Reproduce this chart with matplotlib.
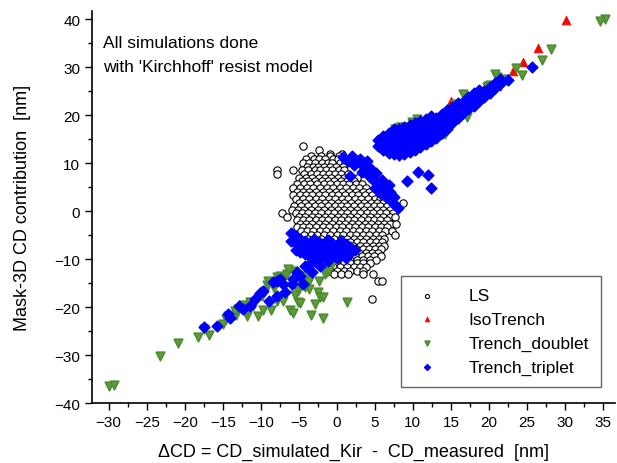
import numpy as np
import matplotlib
matplotlib.use("Agg")
import matplotlib.pyplot as plt
from matplotlib.ticker import MultipleLocator

plt.rcParams['font.family'] = ['Liberation Sans', 'DejaVu Sans']

# ---------------- data ----------------
# LS : rows of the dense cloud, (y, [x values])
ls_rows = [
    (13.5, [-4.5]),
    (12.7, [-2.3]),
    (12.0, [-0.9, 0.7]),
    (11.6, [-3.4, -2.1, -0.9, 0.3]),
    (10.8, [-4.1, -3.0, -2.4, -1.6, -0.5, 0.2]),
    (10.0, [-4.4, -3.6, -2.9, -2.0, -1.2, -0.6, 0.4, 1.1]),
    (9.2, [-3.9, -3.1, -2.5, -1.7, -0.9, -0.1, 0.8]),
    (8.5, [-7.8, -5.8, -4.6, -3.8, -2.9, -2.2, -1.4, -0.6, 0.3, 1.0]),
    (7.8, [-7.8, -4.3, -3.4, -2.6, -1.8, -1.0, -0.2, 0.6, 1.5]),
    (7.0, [-5.0, -4.1, -3.2, -2.3, -1.5, -0.8, 0.1, 0.9, 1.7, 2.7]),
    (6.3, [-4.6, -3.8, -2.9, -2.0, -1.2, -0.4, 0.5, 1.3, 2.2]),
    (5.6, [-5.2, -4.3, -3.5, -2.6, -1.7, -0.9, 0.0, 0.8, 1.6, 2.5, 3.3]),
    (4.8, [-5.8, -4.8, -3.9, -3.1, -2.2, -1.3, -0.5, 0.4, 1.2, 2.1, 2.9, 3.8]),
    (4.1, [-5.3, -4.5, -3.6, -2.7, -1.8, -1.0, -0.1, 0.7, 1.6, 2.5, 3.4, 4.2]),
    (3.3, [-5.8, -4.9, -4.0, -3.2, -2.3, -1.5, -0.6, 0.2, 1.1, 2.0, 2.8, 3.7, 4.6, 6.5]),
    (2.6, [-5.4, -4.5, -3.7, -2.8, -1.9, -1.0, -0.2, 0.7, 1.5, 2.4, 3.2, 4.1, 5.0, 5.7, 7.3]),
    (1.8, [-5.0, -4.2, -3.3, -2.4, -1.6, -0.7, 0.2, 1.0, 1.9, 2.8, 3.6, 4.5, 5.3, 6.1, 8.7]),
    (1.1, [-5.6, -4.7, -3.8, -2.9, -2.1, -1.2, -0.3, 0.6, 1.4, 2.3, 3.2, 4.0, 4.9, 5.7, 6.6, 7.9]),
    (0.3, [-5.9, -5.1, -4.3, -3.4, -2.5, -1.7, -0.8, 0.1, 1.0, 1.8, 2.7, 3.6, 4.4, 5.3, 6.1, 7.0]),
    (-0.4, [-7.2, -5.4, -4.6, -3.8, -2.9, -2.1, -1.2, -0.4, 0.5, 1.4, 2.3, 3.1, 4.0, 4.8, 5.7, 6.5, 7.4]),
    (-1.2, [-6.6, -5.0, -4.2, -3.3, -2.5, -1.6, -0.7, 0.1, 1.0, 1.8, 2.7, 3.6, 4.4, 5.3, 6.1, 7.0, 7.6]),
    (-1.9, [-5.3, -4.5, -3.7, -2.8, -1.9, -1.1, -0.2, 0.6, 1.5, 2.3, 3.2, 4.1, 4.9, 5.7, 6.6]),
    (-2.7, [-4.9, -4.1, -3.2, -2.3, -1.5, -0.6, 0.3, 1.1, 2.0, 2.8, 3.7, 4.5, 5.4, 6.2, 7.0, 7.8]),
    (-3.4, [-5.2, -4.4, -3.6, -2.7, -1.8, -1.0, -0.1, 0.7, 1.6, 2.4, 3.3, 4.1, 5.0, 5.8, 6.6]),
    (-4.2, [-4.7, -3.9, -3.1, -2.2, -1.4, -0.5, 0.4, 1.2, 2.1, 2.9, 3.8, 4.6, 5.5, 6.3, 7.2]),
    (-4.9, [-4.3, -3.4, -2.6, -1.7, -0.9, 0.0, 0.8, 1.7, 2.5, 3.4, 4.2, 5.1, 5.9, 7.6]),
    (-5.7, [-3.8, -3.0, -2.1, -1.2, -0.4, 0.5, 1.3, 2.2, 3.0, 3.9, 4.7, 5.5, 6.2]),
    (-6.4, [1.7, 2.6, 3.4, 4.3, 5.1, 5.9]),
    (-7.2, [2.1, 3.0, 3.8, 4.7, 5.5, 6.2]),
    (-7.9, [2.5, 3.4, 4.2, 5.0, 5.8]),
    (-8.7, [2.9, 3.8, 4.6, 5.4]),
    (-9.4, [-1.8, 2.4, 3.3, 4.1, 4.9, 5.8]),
    (-10.2, [-1.4, -0.5, 0.8, 1.7, 2.6, 3.5, 4.3, 5.2]),
    (-10.9, [-1.9, -1.0, -0.1, 0.9, 1.8, 2.6, 3.5, 4.4]),
    (-11.7, [-1.4, -0.5, 0.4, 1.3, 2.2, 3.1, 3.9]),
    (-12.4, [-0.9, 0.0, 0.9, 1.8, 2.7, 3.4]),
    (-13.1, [-0.4, 0.6, 1.5, 3.4, 4.7]),
    (-14.6, [5.4, 6.0]),
    (-18.3, [4.6]),
]

# IsoTrench
iso_x = [30.1, 26.4, 24.5, 23.2, 21.0, 15.0]
iso_y = [39.8, 34.0, 31.0, 29.2, 26.0, 22.9]

# Trench_doublet
dbl_x = [35.3, 34.6, 28.2, 27.0, 24.3, 23.6, 22.2, 20.8, 21.0, 19.9, 19.7, 20.1,
         19.0, 16.6, 17.1, 16.2, 16.6, 15.5, 15.1, 14.9, 14.5, 14.6, 14.2, 14.0,
         13.8, 13.5, 14.2, 10.5, 10.0, 9.9, 8.7, 8.0, 8.3, 7.6,
         -29.9, -29.3, -23.2, -20.9, -18.2, -16.8, -17.5, -15.0, -14.6, -14.3,
         -13.2, -13.4, -13.0, -11.8, -11.8, -12.4, -10.3, -11.0, -10.8, -11.4,
         -9.7, -8.6, -9.2, -9.1, -9.5, -9.9, -7.9, -7.5, -7.1, -7.8, -7.1,
         -6.2, -5.8, -6.6, -5.8, -6.4, -5.1, -4.9, -5.1, -4.9, -4.5, -4.0,
         -3.6, -3.4, -2.9, -2.5, -2.2, -1.8, -2.4, -1.6, -1.3, -2.9, -2.6,
         -2.5, -1.8, -3.6, -4.2, -3.2, 1.3, -0.8, -1.0, -8.2, -6.9, -5.5]
dbl_y = [40.0, 39.6, 33.8, 31.5, 28.3, 29.8, 27.5, 28.5, 27.9, 26.0, 25.8, 26.3,
         24.4, 24.4, 19.6, 21.3, 20.8, 22.3, 21.3, 20.6, 19.8, 20.2, 19.2, 18.1,
         16.0, 16.5, 16.0, 19.2, 18.1, 18.5, 17.5, 17.1, 17.5, 17.1,
         -36.5, -36.3, -30.2, -27.5, -26.3, -25.8, -24.6, -23.5, -22.5, -21.9,
         -21.7, -20.8, -20.4, -21.9, -20.8, -19.6, -21.9, -19.8, -19.0, -19.0,
         -20.6, -20.6, -15.4, -14.6, -16.7, -17.7, -13.8, -13.5, -14.2, -18.8, -18.8,
         -20.6, -21.3, -13.1, -12.5, -12.1, -19.0, -19.2, -16.7, -15.2, -14.6, -13.5,
         -14.6, -21.7, -19.4, -16.9, -17.9, -17.9, -14.6, -13.1, -12.7, -10.6, -10.0,
         -9.4, -22.3, -16.3, -15.8, -9.4, -19.0, -11.5, -12.2, -16.0, -15.8, -17.5]

# Trench_triplet
tri_x = [5.4, 5.4, 6.1, 6.1, 6.1, 6.8, 6.8, 6.8, 6.8,
         7.5, 7.5, 7.5, 7.5, 7.5, 8.2, 8.2, 8.2, 8.2, 8.2,
         8.9, 8.9, 8.9, 8.9, 8.9, 9.6, 9.6, 9.6, 9.6, 9.6,
         10.3, 10.3, 10.3, 10.3, 10.3, 11.0, 11.0, 11.0, 11.0, 11.0,
         11.7, 11.7, 11.7, 11.7, 11.7, 12.4, 12.4, 12.4, 12.4, 12.4,
         13.1, 13.1, 13.1, 13.1, 13.8, 13.8, 13.8, 13.8,
         14.5, 14.5, 14.5, 14.5, 15.2, 15.2, 15.2, 15.2,
         15.9, 15.9, 15.9, 15.9, 16.6, 16.6, 16.6, 17.3, 17.3, 17.3,
         18.0, 18.0, 18.0, 18.7, 18.7, 18.7, 19.4, 19.4, 20.1, 20.1,
         20.8, 20.8, 21.5, 21.5, 22.5, 25.7,
         10.7, 12.0, 9.2, 12.4,
         0.8, 1.5, 2.0, 2.3, 1.8, 3.0, 3.5, 3.3, 4.0, 4.5, 4.2, 4.8, 5.2, 5.5,
         5.0, 6.0, 6.2, 6.5, 5.8, 7.0, 7.2, 7.6, 8.0, 6.8, 7.5,
         -6.0, -6.0, -5.4, -5.4, -5.4, -4.8, -4.8, -4.8, -4.2, -4.2, -4.2,
         -3.6, -3.6, -3.6, -3.0, -3.0, -3.0, -3.0, -2.4, -2.4, -2.4,
         -1.8, -1.8, -1.8, -1.2, -1.2, -1.2, -1.2, -0.6, -0.6, -0.6,
         0.0, 0.0, 0.0, 0.6, 0.6, 0.6, 1.2, 1.2, 1.2, 1.8, 1.8, 2.4,
         -17.4, -15.8, -14.3, -14.0, -12.8, -12.4, -11.4, -10.8, -10.1, -9.7,
         -8.9, -8.4, -7.9, -7.5, -7.1, -7.8, -6.8, -5.9, -5.8, -5.3, -4.9, -4.5,
         -4.2, -3.6, -3.2, -2.2, -3.2]
tri_y = [13.5, 14.8, 12.8, 14.2, 15.6, 12.2, 13.5, 14.9, 16.3,
         11.9, 13.2, 14.6, 16.0, 17.2, 11.7, 13.0, 14.4, 15.8, 17.1,
         12.0, 13.4, 14.8, 16.2, 17.6, 12.4, 13.8, 15.2, 16.6, 18.0,
         12.8, 14.2, 15.6, 17.0, 18.4, 13.3, 14.7, 16.1, 17.5, 18.8,
         13.9, 15.3, 16.7, 18.1, 19.3, 14.6, 16.0, 17.4, 18.8, 19.8,
         15.3, 16.7, 18.1, 19.5, 16.2, 17.6, 19.0, 20.3,
         17.2, 18.5, 19.8, 21.0, 18.3, 19.6, 20.8, 21.8,
         19.4, 20.6, 21.8, 22.6, 20.4, 21.6, 22.8, 21.2, 22.5, 23.7,
         22.0, 23.3, 24.6, 23.0, 24.2, 25.3, 23.8, 25.0, 24.6, 25.8,
         25.6, 26.8, 26.4, 27.6, 27.3, 30.0,
         8.1, 7.5, 6.3, 4.8,
         11.2, 10.5, 11.5, 9.6, 7.3, 10.8, 9.5, 8.2, 10.5, 8.8, 7.4, 6.6, 8.0, 5.8,
         4.8, 6.5, 4.5, 3.0, 3.5, 4.0, 2.0, 1.2, 0.6, 5.4, 3.0,
         -4.6, -6.2, -5.2, -6.6, -8.0, -5.8, -7.2, -8.6, -6.2, -7.6, -9.0,
         -6.6, -8.0, -9.4, -5.9, -7.3, -8.7, -10.1, -6.4, -7.8, -9.2,
         -6.8, -8.2, -9.6, -6.1, -7.5, -8.9, -10.3, -6.6, -8.0, -9.4,
         -7.0, -8.4, -9.8, -6.3, -7.7, -9.1, -6.9, -8.3, -9.7, -7.4, -8.8, -8.0,
         -24.2, -24.0, -21.5, -22.3, -19.8, -20.4, -19.8, -18.3, -17.1, -16.7,
         -18.8, -14.8, -14.6, -14.2, -15.2, -17.7, -16.9, -15.2, -14.2, -12.7,
         -13.5, -15.2, -11.5, -12.0, -12.7, -11.5, -10.6]

ls_x = [x for y, xs in ls_rows for x in xs]
ls_y = [y for y, xs in ls_rows for x in xs]

# ---------------- figure ----------------
fig = plt.figure(figsize=(6.17, 4.64), dpi=100)
ax = fig.add_axes([0.149, 0.129, 0.848, 0.845])

ax.scatter(ls_x, ls_y, s=28, marker='o', facecolors='white', edgecolors='black',
           linewidths=0.8, label='LS', zorder=2)
iso = ax.scatter(iso_x, iso_y, s=40, marker='^', color='#ff0000', linewidths=0.5,
                 label='IsoTrench', zorder=3)
dbl = ax.scatter(dbl_x, dbl_y, s=38, marker='v', facecolors='#5e9c3c',
                 edgecolors='#4e8c32', linewidths=1.2, label='Trench_doublet', zorder=4)
dbl.set_joinstyle('round')
tri = ax.scatter(tri_x, tri_y, s=30, marker='D', color='#0000ff', linewidths=1.0,
                 label='Trench_triplet', zorder=5)
tri.set_joinstyle('round')

ax.set_xlim(-32.2, 36.6)
ax.set_ylim(-40, 41.7)
ax.xaxis.set_major_locator(MultipleLocator(5))
ax.xaxis.set_minor_locator(MultipleLocator(2.5))
ax.yaxis.set_major_locator(MultipleLocator(10))
ax.yaxis.set_minor_locator(MultipleLocator(5))
ax.tick_params(which='major', direction='out', length=5, width=1, labelsize=11)
ax.tick_params(which='minor', direction='out', length=3, width=1)
for side in ['top', 'right']:
    ax.spines[side].set_visible(False)
for side in ['left', 'bottom']:
    ax.spines[side].set_linewidth(1.2)

ax.set_xlabel('ΔCD = CD_simulated_Kir  -  CD_measured  [nm]', fontsize=13, labelpad=10)
ax.set_ylabel('Mask-3D CD contribution  [nm]', fontsize=13, labelpad=17)

ax.text(0.022, 0.94, "All simulations done\nwith 'Kirchhoff' resist model",
        transform=ax.transAxes, fontsize=12.5, va='top', ha='left', linespacing=1.75)

leg = ax.legend(loc='lower left', bbox_to_anchor=(0.59, 0.041), fontsize=12.5,
                frameon=True, fancybox=False, edgecolor='#404040', markerscale=0.55,
                handlelength=1.6, handletextpad=1.6, borderpad=0.7, labelspacing=0.5,
                borderaxespad=0)
leg.get_frame().set_linewidth(1.0)

fig.savefig('out.png', dpi=100)
